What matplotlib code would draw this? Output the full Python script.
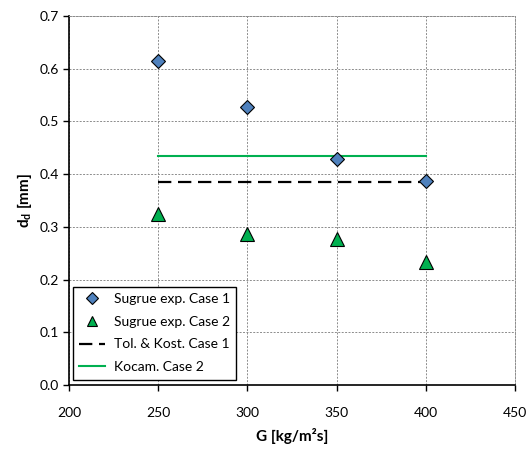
import numpy as np
import matplotlib
matplotlib.use("Agg")
import matplotlib.pyplot as plt

plt.rcParams['font.family'] = ['Lato', 'DejaVu Sans']

# experimental points
G = [250, 300, 350, 400]
d_case1 = [0.615, 0.527, 0.428, 0.387]
d_case2 = [0.325, 0.287, 0.277, 0.234]

# model predictions (constant)
G_model = [250, 400]
d_tol = [0.385, 0.385]
d_kocam = [0.434, 0.434]

fig = plt.figure(figsize=(5.32, 4.53), dpi=100)
ax = fig.add_axes([0.1297, 0.150, 0.8383, 0.8147])

ax.plot(G, d_case1, linestyle='none', marker='D', markersize=7.5, markerfacecolor='#4F81BD',
        markeredgecolor='black', markeredgewidth=0.8, label='Sugrue exp. Case 1', zorder=4)
ax.plot(G, d_case2, linestyle='none', marker='^', markersize=10, markerfacecolor='#00B050',
        markeredgecolor='black', markeredgewidth=0.8, label='Sugrue exp. Case 2', zorder=4)
ax.plot(G_model, d_tol, color='black', linestyle=(0, (6, 3)), linewidth=1.6,
        label='Tol. & Kost. Case 1', zorder=3)
ax.plot(G_model, d_kocam, color='#00B050', linewidth=1.5, label='Kocam. Case 2', zorder=3)

ax.set_xlim(200, 450)
ax.set_ylim(0.0, 0.7)
ax.set_xticks(np.arange(200, 451, 50))
ax.set_yticks(np.arange(0.0, 0.71, 0.1))
ax.set_yticklabels(['%.1f' % v for v in np.arange(0.0, 0.71, 0.1)])
ax.tick_params(direction='out', length=4, width=1, labelsize=10, colors='black')
ax.tick_params(axis='x', pad=12)

ax.grid(True, color='#8c8c8c', linestyle=(0, (2, 1.5)), linewidth=0.7)
ax.set_axisbelow(True)
for s in ['left', 'bottom']:
    ax.spines[s].set_color('black')
    ax.spines[s].set_linewidth(1.2)
for s in ['top', 'right']:
    ax.spines[s].set_color('#8c8c8c')
    ax.spines[s].set_linewidth(0.7)
    ax.spines[s].set_linestyle((0, (2, 1.5)))

ax.set_xlabel('G [kg/m²s]', fontsize=11, fontweight='bold', labelpad=6)
ax.set_ylabel('d$_\\mathregular{d}$ [mm]', fontsize=11, fontweight='bold', labelpad=4)

leg = ax.legend(loc='lower left', bbox_to_anchor=(0.008, 0.015), fontsize=10, frameon=True,
                fancybox=False, edgecolor='black', framealpha=1, borderpad=0.45,
                handlelength=1.9, handletextpad=0.6, labelspacing=0.78, markerscale=0.75,
                borderaxespad=0)
leg.get_frame().set_linewidth(1.0)

fig.savefig('out.png', dpi=100)
